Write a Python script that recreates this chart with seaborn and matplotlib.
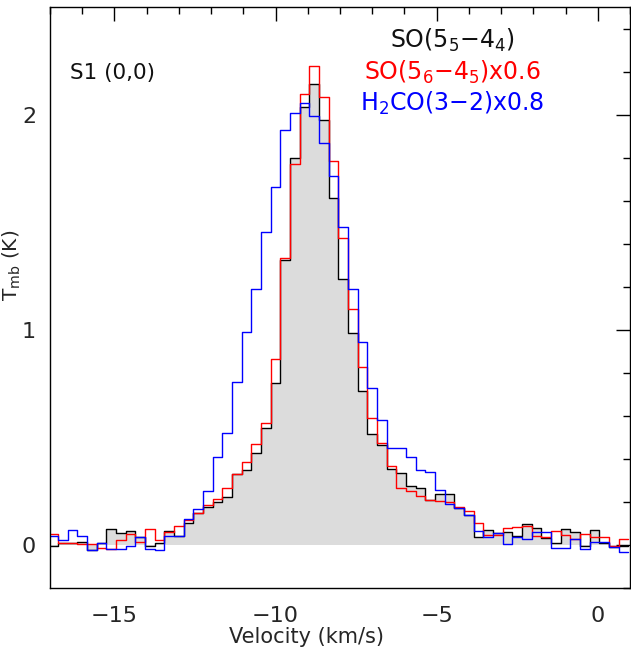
import numpy as np
import pandas as pd
import matplotlib.pyplot as plt
import seaborn as sns

# spectra: 0.3 km/s channels, first channel centred at -16.9 km/s
v_first = -16.9
dv = 0.3

# SO(5_5-4_4), main beam temperature (K)
so_55 = [-0.005, 0.010, 0.012, 0.015, -0.022, 0.012, 0.077, 0.059, 0.065, 0.036,
         -0.005, 0.012, 0.064, 0.045, 0.102, 0.148, 0.178, 0.201, 0.224, 0.329,
         0.351, 0.430, 0.544, 0.755, 1.324, 1.797, 2.035, 2.144, 1.975, 1.613,
         1.237, 0.985, 0.716, 0.518, 0.464, 0.355, 0.336, 0.273, 0.266, 0.210,
         0.240, 0.240, 0.172, 0.139, 0.037, 0.070, 0.056, 0.063, 0.043, 0.097,
         0.082, 0.032, 0.009, 0.074, 0.062, -0.003, 0.070, 0.009, -0.008, -0.003]

# SO(5_6-4_5) x0.6
so_56 = [0.050, 0.010, 0.012, 0.007, 0.005, -0.012, -0.016, 0.023, 0.051, 0.014,
         0.074, 0.025, 0.062, 0.088, 0.116, 0.150, 0.188, 0.213, 0.268, 0.333,
         0.388, 0.470, 0.566, 0.863, 1.332, 1.773, 2.096, 2.227, 2.080, 1.787,
         1.428, 1.096, 0.829, 0.591, 0.476, 0.366, 0.268, 0.250, 0.230, 0.210,
         0.205, 0.200, 0.178, 0.157, 0.103, 0.048, 0.046, 0.082, 0.087, 0.090,
         0.043, 0.040, 0.065, 0.048, 0.028, 0.054, 0.036, 0.040, -0.003, 0.028]

# H2CO(3-2) x0.8
h2co = [0.043, 0.024, 0.071, 0.043, -0.022, 0.012, -0.019, -0.019, -0.003, 0.039,
        -0.019, -0.022, 0.042, 0.045, 0.122, 0.167, 0.252, 0.410, 0.523, 0.759,
        0.991, 1.188, 1.454, 1.664, 1.930, 2.008, 2.054, 1.995, 1.869, 1.714,
        1.477, 1.192, 0.942, 0.729, 0.581, 0.453, 0.453, 0.410, 0.348, 0.341,
        0.257, 0.190, 0.175, 0.139, 0.066, 0.037, 0.056, 0.005, 0.040, 0.028,
        0.062, 0.062, -0.014, -0.014, 0.028, -0.019, 0.015, 0.015, -0.008, -0.030]

line_names = ['SO55', 'SO56', 'H2CO']
line_colors = {'SO55': 'black', 'SO56': 'red', 'H2CO': 'blue'}

n_chan = len(so_55)
centres = v_first + dv * np.arange(n_chan)
edges = np.append(centres - dv / 2, centres[-1] + dv / 2)

rows = []
for name, vals in zip(line_names, [so_55, so_56, h2co]):
    y = list(vals) + [vals[-1]]
    for e, t in zip(edges, y):
        rows.append({'edge': e, 'tmb': t, 'line': name})
df = pd.DataFrame(rows)

sns.set_theme(style='white')
plt.rcParams['font.family'] = ['DejaVu Sans']
plt.rcParams['mathtext.fontset'] = 'dejavusans'

fig = plt.figure(figsize=(6.31, 6.47), dpi=100)
ax = fig.add_axes([50 / 631, 58.7 / 647, 580 / 631, 581.3 / 647])

# grey filled SO(5_5-4_4) spectrum
black_y = np.array(list(so_55) + [so_55[-1]])
ax.fill_between(edges, 0, black_y, step='post', color='#dcdcdc', linewidth=0, zorder=0)

sns.lineplot(data=df, x='edge', y='tmb', hue='line', hue_order=line_names,
             palette=line_colors, drawstyle='steps-post', estimator=None,
             sort=False, linewidth=1.0, legend=False, ax=ax)

ax.set_xlim(-17, 1)
ax.set_ylim(-0.2, 2.5)
ax.set_xticks([-15, -10, -5, 0])
ax.set_xticks(np.arange(-17, 1.01, 1), minor=True)
ax.set_yticks([0, 1, 2])
ax.set_yticks(np.arange(-0.2, 2.51, 0.2), minor=True)
ax.tick_params(which='both', direction='in', top=True, right=True, color='black', width=1.0)
ax.tick_params(which='major', length=10, labelsize=16)
ax.tick_params(axis='x', which='major', pad=13)
ax.tick_params(axis='y', which='major', pad=10)
ax.tick_params(which='minor', length=5)
for s in ax.spines.values():
    s.set_color('black')
    s.set_linewidth(1.0)

ax.set_xlabel('Velocity (km/s)', fontsize=15)
ax.set_ylabel(r'T$_{\mathrm{mb}}$ (K)', fontsize=14.5)
ax.xaxis.set_label_coords(0.443, -0.066)
ax.yaxis.set_label_coords(-0.047, 0.556)

ax.text(0.0345, 0.876, 'S1 (0,0)', transform=ax.transAxes, fontsize=15.5,
        ha='left', va='baseline', color='#111111')
ax.text(0.693, 0.9295, 'SO(5$_5$\u22124$_4$)', transform=ax.transAxes, fontsize=17,
        ha='center', va='baseline', color='#111111')
ax.text(0.693, 0.8744, 'SO(5$_6$\u22124$_5$)x0.6', transform=ax.transAxes, fontsize=17,
        ha='center', va='baseline', color='red')
ax.text(0.693, 0.8211, 'H$_2$CO(3\u22122)x0.8', transform=ax.transAxes, fontsize=17,
        ha='center', va='baseline', color='blue')

fig.savefig('out.png', dpi=100)
